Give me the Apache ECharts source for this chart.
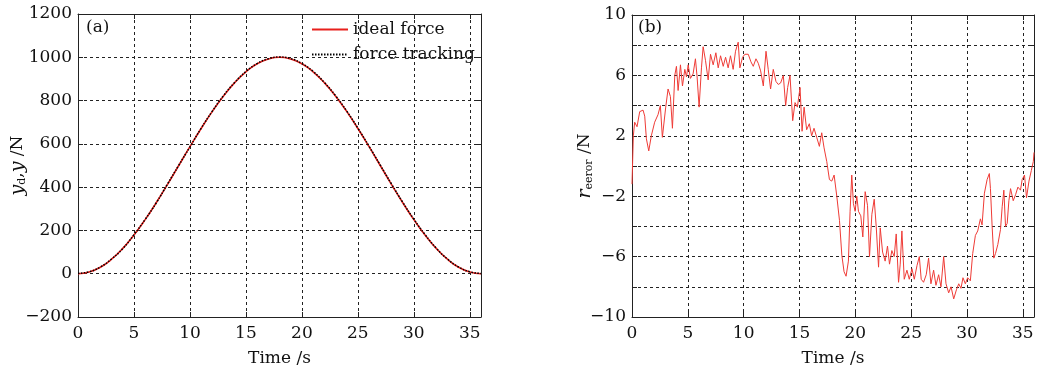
<!DOCTYPE html>
<html>
<head>
<meta charset="utf-8">
<script src="https://cdn.jsdelivr.net/npm/echarts@6/dist/echarts.min.js"></script>
<style>
  html, body { margin: 0; padding: 0; background: #fff; }
  #chart { width: 1040px; height: 372px; }
</style>
</head>
<body>
<div id="chart"></div>
<script>
// time axis of panel (a), one sample per second
const forceTime = [0, 1, 2, 3, 4, 5, 6, 7, 8, 9, 10, 11, 12, 13, 14, 15, 16, 17, 18,
  19, 20, 21, 22, 23, 24, 25, 26, 27, 28, 29, 30, 31, 32, 33, 34, 35, 36];
// ideal force (N)
const idealForce = [0, 8, 30, 67, 117, 179, 250, 329, 413, 500, 587, 671, 750, 821, 883, 933, 970, 992, 1000,
  992, 970, 933, 883, 821, 750, 671, 587, 500, 413, 329, 250, 179, 117, 67, 30, 8, 0];
// force tracking (N)
const trackForce = [2, 9, 31, 68, 116, 180, 251, 328, 415, 501, 586, 672, 751, 823, 884, 934, 971, 993, 1001,
  994, 971, 935, 884, 823, 752, 673, 589, 502, 415, 331, 252, 181, 118, 68, 31, 9, 1];

// panel (b): tracking error
const errTime = [0, 0.12, 0.24, 0.45, 0.69, 0.99, 1.14, 1.29, 1.5, 1.73, 2.03, 2.33, 2.54, 2.72, 3.02, 3.23,
  3.44, 3.62, 3.83, 3.98, 4.13, 4.34, 4.52, 4.73, 4.88, 5.03, 5.23, 5.47, 5.68, 5.83, 6.01, 6.22, 6.37,
  6.58, 6.82, 7.03, 7.27, 7.51, 7.72, 7.93, 8.17, 8.38, 8.61, 8.82, 9.06, 9.27, 9.51, 9.66, 9.9, 10.11,
  10.41, 10.65, 10.86, 11.1, 11.31, 11.52, 11.76, 12.0, 12.2, 12.41, 12.65, 12.89, 13.1, 13.31, 13.55,
  13.76, 13.94, 14.15, 14.39, 14.6, 14.81, 15.05, 15.23, 15.41, 15.64, 15.88, 16.09, 16.3, 16.54, 16.78,
  16.99, 17.2, 17.44, 17.68, 17.89, 18.1, 18.34, 18.58, 18.79, 18.99, 19.17, 19.38, 19.53, 19.68, 19.83,
  19.98, 20.13, 20.28, 20.49, 20.67, 20.88, 21.09, 21.27, 21.48, 21.69, 21.87, 22.08, 22.23, 22.44, 22.67,
  22.88, 23.06, 23.27, 23.48, 23.66, 23.87, 24.02, 24.17, 24.38, 24.62, 24.83, 25.07, 25.28, 25.52, 25.73,
  25.9, 26.11, 26.35, 26.56, 26.77, 27.01, 27.22, 27.46, 27.67, 27.91, 28.12, 28.36, 28.57, 28.81, 29.05,
  29.26, 29.46, 29.64, 29.85, 30.06, 30.3, 30.51, 30.75, 30.96, 31.2, 31.35, 31.56, 31.8, 32.0, 32.1,
  32.25, 32.4, 32.55, 32.76, 33.0, 33.15, 33.3, 33.45, 33.6, 33.75, 33.9, 34.14, 34.35, 34.56, 34.79,
  34.94, 35.15, 35.33, 35.55, 35.76, 35.94, 36.0];
const errValue = [-1.2, 2.0, 2.9, 2.6, 3.6, 3.7, 3.3, 1.8, 1.0, 2.0, 2.9, 3.4, 4.0, 1.9, 3.9, 5.1,
  4.6, 2.5, 6.0, 6.6, 5.0, 6.7, 5.3, 6.4, 5.9, 6.7, 5.8, 6.1, 7.1, 5.9, 3.9, 6.5, 7.9,
  7.0, 5.7, 7.4, 6.7, 7.5, 6.5, 7.3, 6.6, 7.2, 6.5, 7.3, 6.4, 7.6, 8.2, 6.5, 7.2, 7.4,
  7.4, 6.9, 6.6, 7.1, 6.8, 6.3, 5.3, 7.6, 6.4, 5.1, 6.4, 5.6, 5.4, 5.5, 6.0,
  4.0, 5.2, 6.0, 3.0, 4.2, 3.9, 5.2, 2.3, 3.9, 2.4, 2.8, 2.0, 2.5, 1.9, 1.3,
  2.2, 1.2, 0.3, -0.9, -1.0, -0.6, -2.0, -3.6, -5.9, -7.0, -7.3, -6.3, -3.0, -0.6, -2.5,
  -3.0, -2.0, -3.0, -3.3, -4.7, -1.7, -2.6, -6.0, -3.2, -2.2, -4.0, -6.7, -4.1, -5.7, -6.3,
  -5.3, -6.5, -5.6, -6.0, -4.5, -7.7, -6.5, -4.3, -7.5, -6.9, -7.5, -6.8, -7.5, -6.6, -6.0,
  -7.5, -7.7, -7.2, -6.1, -7.8, -6.9, -7.9, -7.2, -8.0, -6.0, -7.8, -8.4, -8.0, -8.8, -8.2,
  -7.8, -8.1, -7.4, -7.8, -7.4, -7.6, -5.8, -4.6, -4.3, -3.5, -3.9, -1.8, -0.9, -0.5, -1.5,
  -4.0, -6.1, -5.8, -5.2, -4.2, -2.7, -1.6, -4.0, -3.8, -2.3, -1.5, -2.3, -1.9, -1.4, -1.6,
  -0.9, -0.6, -2.1, -1.0, -0.3, 0.3, 0.9];

const FONT = 'DejaVu Serif';
const TXT = '#111';
const gridDash = { color: '#222', width: 1, type: [3, 3] };
const minusFmt = (v) => (v < 0 ? '\u2212' + Math.abs(v) : String(v));

const chartDom = document.getElementById('chart');
const chart = echarts.init(chartDom, null, { renderer: 'canvas' });

const pair = (xs, ys) => xs.map((x, i) => [x, ys[i]]);

const timeAxis = (gridIndex) => ({
  type: 'value', gridIndex, min: 0, max: 36, interval: 5,
  name: 'Time /s', nameLocation: 'middle', nameGap: 33, nameMoveOverlap: false,
  nameTextStyle: { fontFamily: FONT, fontSize: 17, color: TXT },
  axisLine: { onZero: false, lineStyle: { color: '#222', width: 1 } },
  axisTick: { inside: true, length: 5, lineStyle: { color: '#222' } },
  axisLabel: { fontFamily: FONT, fontSize: 17, color: TXT, margin: 8, showMaxLabel: false },
  splitLine: { show: true, lineStyle: gridDash }
});

const boxAxis = (kind, gridIndex, extra) => Object.assign({
  type: 'value', gridIndex,
  position: kind === 'x' ? 'top' : 'right',
  axisLine: { show: true, onZero: false, lineStyle: { color: '#222', width: 1 } },
  axisTick: { show: true, inside: true, length: 5, lineStyle: { color: '#222' } },
  axisLabel: { show: false },
  splitLine: { show: false }
}, extra);

const nameRich = {
  i: { fontFamily: FONT, fontSize: 19, fontStyle: 'italic', color: TXT },
  s: { fontFamily: FONT, fontSize: 11, color: TXT, padding: [9, 0, 0, 0] },
  n: { fontFamily: FONT, fontSize: 17, color: TXT }
};

const option = {
  backgroundColor: '#fff',
  animation: false,
  grid: [
    { left: 78, right: 559, top: 14, bottom: 55 },
    { left: 632, right: 6, top: 15, bottom: 54 }
  ],
  xAxis: [
    timeAxis(0),
    timeAxis(1),
    boxAxis('x', 0, { min: 0, max: 36, interval: 5 }),
    boxAxis('x', 1, { min: 0, max: 36, interval: 5 })
  ],
  yAxis: [
    {
      type: 'value', gridIndex: 0, min: -200, max: 1200, interval: 200,
      name: '{i|y}{s|d}{n|,}{i|y}{n| /N}', nameLocation: 'middle', nameGap: 50, nameRotate: 90,
      nameMoveOverlap: false,
      nameTextStyle: { fontFamily: FONT, fontSize: 17, color: TXT, rich: nameRich },
      axisLine: { onZero: false, lineStyle: { color: '#222' } },
      axisTick: { inside: true, length: 5, lineStyle: { color: '#222' } },
      axisLabel: { fontFamily: FONT, fontSize: 17, color: TXT, margin: 6, formatter: minusFmt },
      splitLine: { show: true, lineStyle: gridDash }
    },
    {
      type: 'value', gridIndex: 1, min: -10, max: 10, interval: 4,
      name: '{i|r}{s|eeror}{n| /N}', nameLocation: 'middle', nameGap: 37, nameRotate: 90,
      nameMoveOverlap: false,
      nameTextStyle: { fontFamily: FONT, fontSize: 17, color: TXT, rich: nameRich },
      axisLine: { onZero: false, lineStyle: { color: '#222' } },
      axisTick: { inside: true, length: 5, lineStyle: { color: '#222' } },
      minorTick: { show: true, splitNumber: 2, length: 5, lineStyle: { color: '#222' } },
      minorSplitLine: { show: true, lineStyle: gridDash },
      axisLabel: { fontFamily: FONT, fontSize: 17, color: TXT, margin: 6, formatter: minusFmt },
      splitLine: { show: true, lineStyle: gridDash }
    },
    boxAxis('y', 0, { min: -200, max: 1200, interval: 200 }),
    boxAxis('y', 1, {
      min: -10, max: 10, interval: 4,
      minorTick: { show: true, splitNumber: 2, length: 5, lineStyle: { color: '#222' } }
    })
  ],
  legend: {
    left: 306, top: 16, orient: 'vertical', itemWidth: 36, itemHeight: 14, itemGap: 8,
    itemStyle: { opacity: 0 },
    textStyle: { fontFamily: FONT, fontSize: 17, color: TXT },
    data: ['ideal force', 'force tracking']
  },
  graphic: [
    { type: 'text', left: 86, top: 19, style: { text: '(a)', font: '17px "DejaVu Serif"', fill: TXT } },
    { type: 'text', left: 638, top: 19, style: { text: '(b)', font: '17px "DejaVu Serif"', fill: TXT } }
  ],
  series: [
    {
      name: 'ideal force', type: 'line', xAxisIndex: 0, yAxisIndex: 0,
      data: pair(forceTime, idealForce), smooth: true, symbol: 'none',
      lineStyle: { color: '#e8201c', width: 1.6 }, itemStyle: { color: '#e8201c' }
    },
    {
      name: 'force tracking', type: 'line', xAxisIndex: 0, yAxisIndex: 0,
      data: pair(forceTime, trackForce), smooth: true, symbol: 'none',
      lineStyle: { color: '#000', width: 1.5, type: [1.5, 1.5] }, itemStyle: { color: '#000' }
    },
    {
      name: 'error', type: 'line', xAxisIndex: 1, yAxisIndex: 1,
      data: pair(errTime, errValue), symbol: 'none',
      lineStyle: { color: '#ef3b36', width: 1 }
    }
  ]
};

chart.setOption(option);
</script>
</body>
</html>
